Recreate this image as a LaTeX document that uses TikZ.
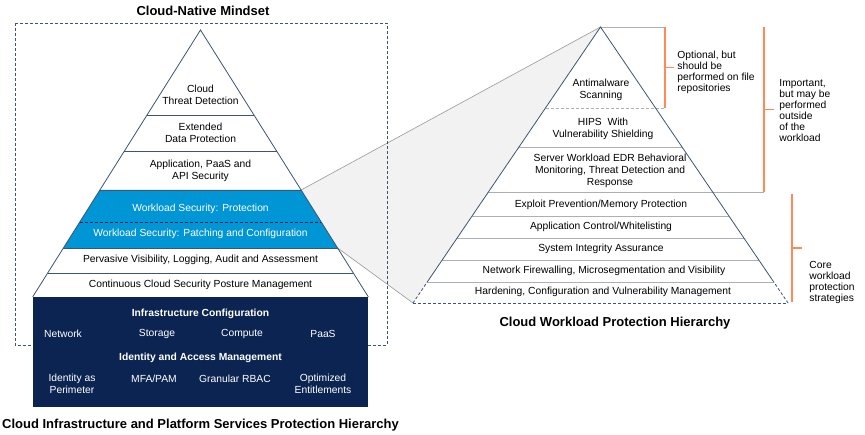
\documentclass[tikz,border=0pt]{standalone}
\usepackage{fontspec}
\setmainfont{Liberation Sans}
\definecolor{wlblue}{RGB}{0,150,214}
\definecolor{infranavy}{RGB}{12,36,82}
\definecolor{slate}{RGB}{62,84,114}
\definecolor{layergray}{RGB}{172,176,180}
\definecolor{shade}{RGB}{242,242,242}
\definecolor{bracket}{RGB}{255,138,88}
\begin{document}
\begin{tikzpicture}[x=1pt,y=-1pt,line width=0.8pt,
		layertext/.style={font=\fontsize{10.3}{12}\selectfont,align=center,inner sep=0pt},
		boxhead/.style={font=\fontsize{10.3}{12}\selectfont\bfseries,text=white,inner sep=0pt},
		boxtext/.style={layertext,text=white},
		notetext/.style={font=\fontsize{10.3}{11}\selectfont,align=left,anchor=west,inner sep=0pt},
		title/.style={font=\fontsize{13}{15}\selectfont\bfseries,inner sep=0pt},
		dashline/.style={dash pattern=on 3pt off 2pt}]
	\useasboundingbox (0,0) rectangle (865,435);
	\fill[color=shade] (301.1,190) -- (600.5,27) -- (413,303) -- (336.6,248) -- cycle;
	\draw[color=gray!80,line width=0.6pt] (301.1,190) -- (600.5,27);
	\draw[color=gray!80,line width=0.6pt] (337.6,248) -- (413,303);
	\draw[color=slate,dashline] (15,23) rectangle (387,345);
	\fill[color=white] (200.5,30) -- (32.6,297) -- (368.4,297) -- cycle;
	\fill[color=wlblue] (99.9,190) -- (301.1,190) -- (337.6,248) -- (63.4,248) -- cycle;
	\draw[color=slate] (147,115) -- (254,115);
	\draw[color=slate] (124.4,151) -- (276.6,151);
	\draw[color=slate] (99.9,190) -- (301.1,190);
	\draw[color=infranavy,dashline] (79.7,222) -- (321.3,222);
	\draw[color=slate] (63.4,248) -- (337.6,248);
	\draw[color=slate] (47.7,273) -- (353.3,273);
	\draw[color=slate] (32.6,297) -- (200.5,30) -- (368.4,297);
	\fill[color=infranavy] (32.6,297) rectangle (368.4,407);
	\node[layertext] (cloudthreat) at (200.5,95) {Cloud\\Threat Detection};
	\node[layertext] (extdata) at (200.5,133) {Extended\\Data Protection};
	\node[layertext] (appsec) at (200.5,171) {Application, PaaS and\\API Security};
	\node[boxtext] (wlprot) at (200.5,209) {Workload Security: Protection};
	\node[boxtext] (wlpatch) at (200.5,234) {Workload Security: Patching and Configuration};
	\node[layertext] (pervasive) at (200.5,260) {Pervasive Visibility, Logging, Audit and Assessment};
	\node[layertext] (cspm) at (200.5,285) {Continuous Cloud Security Posture Management};
	\node[boxhead] (infraconf) at (200.5,314) {Infrastructure Configuration};
	\node[boxtext] (network) at (63,334) {Network};
	\node[boxtext] (storage) at (157,334) {Storage};
	\node[boxtext] (compute) at (242,334) {Compute};
	\node[boxtext] (paas) at (323,334) {PaaS};
	\node[boxhead] (iam) at (200.5,358) {Identity and Access Management};
	\node[boxtext] (idperim) at (72,384) {Identity as\\Perimeter};
	\node[boxtext] (mfapam) at (154,379) {MFA/PAM};
	\node[boxtext] (rbac) at (235,379) {Granular RBAC};
	\node[boxtext] (entitle) at (323,384) {Optimized\\Entitlements};
	\node[title] (mindset) at (203,11) {Cloud-Native Mindset};
	\node[title] (cipshier) at (200.5,425) {Cloud Infrastructure and Platform Services Protection Hierarchy};
	\draw[color=layergray] (600.5,27) -- (665,27);
	\draw[color=layergray,dashline] (545.5,108) -- (665,108);
	\draw[color=layergray] (519,147) -- (682,147);
	\draw[color=layergray] (488.4,192) -- (764,192);
	\draw[color=layergray] (472.1,216) -- (728.9,216);
	\draw[color=layergray] (457.2,238) -- (743.8,238);
	\draw[color=layergray] (442.2,260) -- (758.8,260);
	\draw[color=layergray] (427.3,282) -- (773.7,282);
	\draw[color=slate,dashline] (413,303) -- (788,303);
	\draw[color=slate] (428.6,280) -- (600.5,27) -- (772.4,280);
	\draw[color=slate,dashline] (428.6,280) -- (413,303);
	\draw[color=slate,dashline] (772.4,280) -- (788,303);
	\draw[color=bracket,line width=1.1pt] (665,27) -- (665,108);
	\draw[color=bracket,line width=1.1pt] (665,67.5) -- (674,67.5);
	\draw[color=bracket,line width=1.1pt] (764,27) -- (764,192);
	\draw[color=bracket,line width=1.1pt] (764,109.5) -- (774,109.5);
	\draw[color=bracket,line width=1.1pt] (792,194) -- (792,302);
	\draw[color=bracket,line width=1.1pt] (792,248) -- (802,248);
	\node[layertext] (antimalware) at (601,89.5) {Antimalware\\Scanning};
	\node[layertext] (hips) at (603,128.5) {HIPS\ \ With\\Vulnerability Shielding};
	\node[layertext] (edr) at (610,171) {Server Workload EDR Behavioral\\Monitoring, Threat Detection and\\Response};
	\node[layertext] (exploit) at (601,205) {Exploit Prevention/Memory Protection};
	\node[layertext] (appctrl) at (601,227) {Application Control/Whitelisting};
	\node[layertext] (sysint) at (601,249) {System Integrity Assurance};
	\node[layertext] (netfw) at (604,271) {Network Firewalling, Microsegmentation and Visibility};
	\node[layertext] (harden) at (603,292) {Hardening, Configuration and Vulnerability Management};
	\node[notetext] (optional) at (677,72.5) {Optional, but\\should be\\performed on file\\repositories};
	\node[notetext] (important) at (779,111) {Important,\\but may be\\performed\\outside\\of the\\workload};
	\node[notetext] (core) at (809,282.5) {Core\\workload\\protection\\strategies};
	\node[title] (cwphier) at (615,323) {Cloud Workload Protection Hierarchy};
\end{tikzpicture}
\end{document}
